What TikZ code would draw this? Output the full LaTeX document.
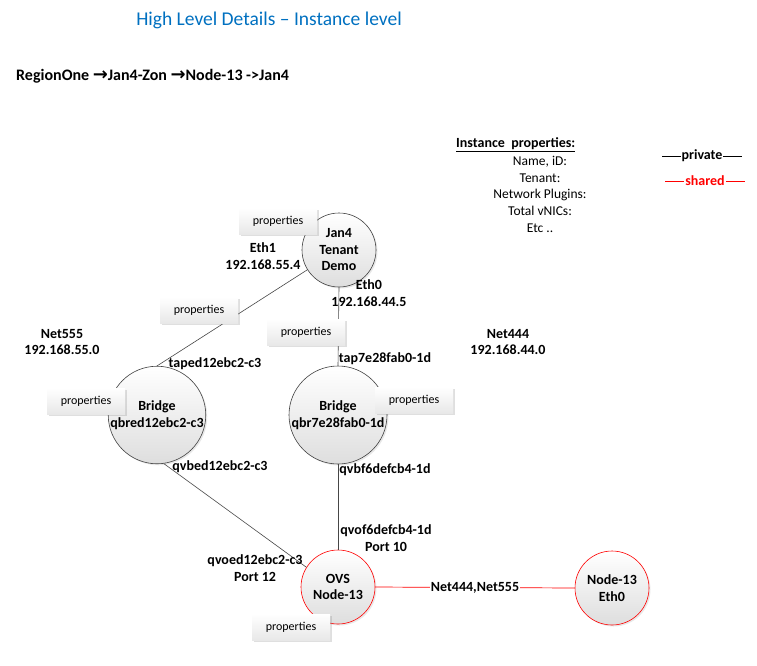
\documentclass[tikz,border=0pt]{standalone}
\usepackage{fontspec}
\setmainfont{Carlito}
\newfontfamily\arrowfont{DejaVu Sans}
\usetikzlibrary{calc}
\usetikzlibrary{shadows}

\definecolor{titleblue}{RGB}{0,112,192}
\definecolor{wire}{RGB}{70,70,70}
\definecolor{sharedred}{RGB}{255,0,0}

\tikzset{
  lbl/.style={font=\fontsize{14}{16.5}\selectfont\bfseries, align=center},
  host/.style={circle, draw=black!75, line width=0.6pt, top color=white, bottom color=black!13,
    inner sep=0pt, lbl,
    drop shadow={opacity=0.18, shadow xshift=1.5pt, shadow yshift=-1.5pt}},
  redhost/.style={host, draw=sharedred},
  propbox/.style={rectangle, top color=white, bottom color=black!9, minimum width=78pt,
    minimum height=26pt, inner sep=0pt, font=\fontsize{12}{14}\selectfont,
    drop shadow={opacity=0.25, shadow xshift=2pt, shadow yshift=-2pt}},
  wireline/.style={draw=wire, line width=0.6pt},
}

\begin{document}
\begin{tikzpicture}[x=1pt, y=-1pt, font=\fontsize{13.5}{16.5}\selectfont]

\useasboundingbox (0,0) rectangle (757,665);

\coordinate (T) at (269,20);
\coordinate (R) at (16,76);
\coordinate (I) at (456,145);

\node (title) at (T) {\fontsize{19.5}{22}\selectfont\color{titleblue}High Level Details -- Instance level};
\node (route) at (R) [anchor=west, inner sep=0pt, lbl, font=\fontsize{16}{18}\selectfont\bfseries]
  {RegionOne {\arrowfont\fontsize{18}{18}\selectfont →}Jan4-Zon {\arrowfont\fontsize{18}{18}\selectfont →}Node-13 -\textgreater Jan4};

\node (iprops) at (I) [anchor=west, inner sep=0pt, lbl] {\underline{Instance\ \ properties:}};
\node (iname) at (540,162) {Name, iD:};
\node (itenant) at (540,178) {Tenant:};
\node (iplug) at (540,195) {Network Plugins:};
\node (inics) at (540,211) {Total vNICs:};
\node (ietc) at (540,228) {Etc ..};

% legend
\coordinate (pa) at (662,156);
\coordinate (pb) at (742,156);
\coordinate (sa) at (665,181);
\coordinate (sb) at (745,181);
\draw[black, line width=0.7pt] (pa) -- node[fill=white, inner sep=1pt, lbl] (lpriv) {private} (pb);
\draw[sharedred, line width=0.7pt] (sa) -- node[fill=white, inner sep=1pt, lbl, text=sharedred] (lshared) {shared} (sb);

% hosts
\node (jan) at (339,250) [host, minimum size=74pt] {Jan4\\Tenant\\Demo};
\node (bra) at (157,415) [host, minimum size=95pt] {Bridge\\qbred12ebc2-c3};
\node (brb) at (338,415) [host, minimum size=98pt] {Bridge\\qbr7e28fab0-1d};
\node (ovs) at (338,587) [redhost, minimum size=74pt] {OVS\\Node-13};
\node (nod) at (612,588) [redhost, minimum size=74pt] {Node-13\\Eth0};

\draw[wireline] (jan.212) -- (bra.90);
\draw[wireline] (jan.south) -- (brb.north);
\draw[wireline] (bra.-82) -- (ovs.148);
\draw[wireline] (brb.south) -- (ovs.north);
\draw[sharedred, line width=0.7pt] (ovs.east) -- node[fill=white, inner sep=1pt, lbl, text=black] (nets) {Net444,Net555} (nod.west);

% interface labels
\node (eth1) at (263,256) [lbl] {Eth1\\192.168.55.4};
\node (eth0) at (369,293) [lbl] {Eth0\\192.168.44.5};
\node (n555) at (62,342) [lbl] {Net555\\192.168.55.0};
\node (n444) at (508,342) [lbl] {Net444\\192.168.44.0};
\node (tapa) at (215,364) [lbl] {taped12ebc2-c3};
\node (tapb) at (385,359) [lbl] {tap7e28fab0-1d};
\node (qvba) at (220,467) [lbl] {qvbed12ebc2-c3};
\node (qvbb) at (385,470) [lbl] {qvbf6defcb4-1d};
\node (qvob) at (386,538) [lbl] {qvof6defcb4-1d\\Port 10};
\node (qvoa) at (255,568) [lbl] {qvoed12ebc2-c3\\Port 12};

% properties boxes
\node (pjan) at (278,221) [propbox] {properties};
\node (pwire) at (199,310) [propbox] {properties};
\node (peth) at (306,332) [propbox] {properties};
\node (pbra) at (86,401) [propbox] {properties};
\node (pbrb) at (414,400) [propbox] {properties};
\node (povs) at (291,627) [propbox] {properties};

\end{tikzpicture}
\end{document}
